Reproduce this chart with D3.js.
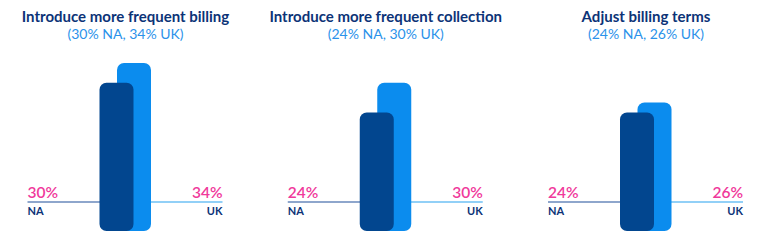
<!DOCTYPE html>
<html><head><meta charset="utf-8">
<script src="https://cdn.jsdelivr.net/npm/d3@7"></script>
<style>html,body{margin:0;padding:0;background:#fff;}svg{display:block;}</style>
</head><body>
<svg id="chart" width="763" height="245"></svg>
<script>
const categories = ["Introduce more frequent billing", "Introduce more frequent collection", "Adjust billing terms"];
const seriesNames = ["NA", "UK"];
const naValues = [30, 24, 24];
const ukValues = [34, 30, 26];

const W = 763, H = 245;
const svg = d3.select("#chart");
const font = "Lato, 'Open Sans', sans-serif";

const x = d3.scalePoint().domain(categories).range([125.5, 646]);
const y = d3.scaleLinear().domain([0, 34]).range([231, 63]);
const barW = 34;
const off = d3.scaleOrdinal().domain(seriesNames).range([-26, -8.5]);
const colors = {NA: "#02468f", UK: "#0b8cee"};
const lineY = 202;

categories.forEach((c, i) => {
  const cx = x(c);
  const g = svg.append("g");
  g.append("text").attr("x", cx).attr("y", 22).attr("text-anchor", "middle")
    .attr("font-family", font).attr("font-weight", 700).attr("font-size", 15)
    .attr("fill", "#0c3377").text(c);
  g.append("text").attr("x", cx).attr("y", 39).attr("text-anchor", "middle")
    .attr("font-family", font).attr("font-size", 14)
    .attr("fill", "#2b92ea").text(`(${naValues[i]}% NA, ${ukValues[i]}% UK)`);
  // baselines
  g.append("line").attr("x1", cx - 98).attr("x2", cx).attr("y1", lineY).attr("y2", lineY)
    .attr("stroke", "#8ea6cc").attr("stroke-width", 2);
  g.append("line").attr("x1", cx).attr("x2", cx + 97).attr("y1", lineY).attr("y2", lineY)
    .attr("stroke", "#92d0f7").attr("stroke-width", 2);
  // bars: UK behind, NA in front
  const rows = [{s: "UK", v: ukValues[i]}, {s: "NA", v: naValues[i]}];
  g.selectAll("rect.bar").data(rows).join("rect").attr("class", "bar")
    .attr("x", d => cx + off(d.s)).attr("width", barW)
    .attr("y", d => y(d.v)).attr("height", d => y(0) - y(d.v))
    .attr("rx", 7).attr("ry", 7).attr("fill", d => colors[d.s]);
  // value labels
  g.append("text").attr("x", cx - 98).attr("y", 198).attr("font-family", font).attr("font-weight", 600)
    .attr("font-size", 15.5).attr("fill", "#f0399b").text(naValues[i] + "%");
  g.append("text").attr("x", cx + 97).attr("y", 198).attr("text-anchor", "end").attr("font-family", font).attr("font-weight", 600)
    .attr("font-size", 15.5).attr("fill", "#f0399b").text(ukValues[i] + "%");
  g.append("text").attr("x", cx - 98).attr("y", 214.5).attr("font-family", font).attr("font-weight", 700)
    .attr("font-size", 11).attr("fill", "#0c3377").text(seriesNames[0]);
  g.append("text").attr("x", cx + 97).attr("y", 214.5).attr("text-anchor", "end").attr("font-family", font).attr("font-weight", 700)
    .attr("font-size", 11).attr("fill", "#0c3377").text(seriesNames[1]);
});
</script>
</body></html>
